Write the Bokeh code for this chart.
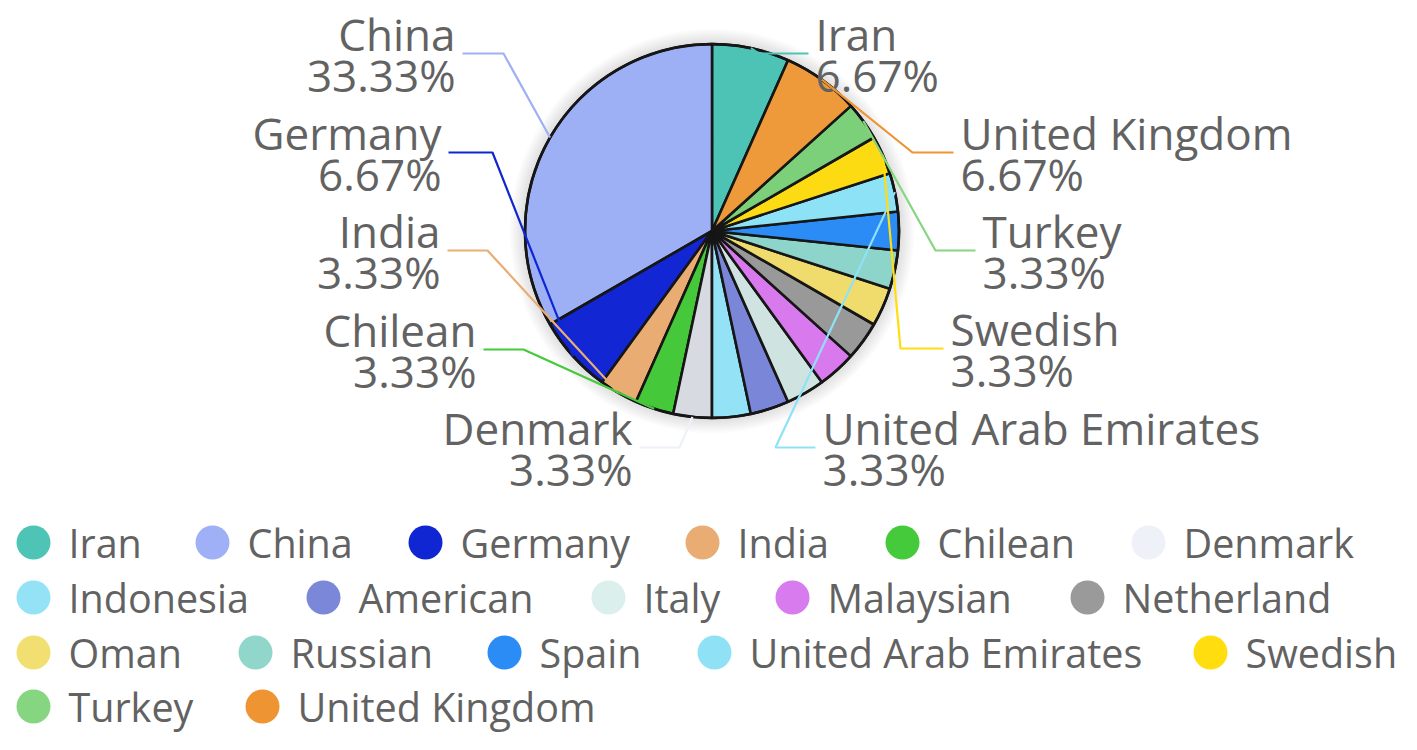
import math
from bokeh.plotting import figure
from bokeh.models import Range1d, ColumnDataSource
from bokeh.embed import file_html
from bokeh.resources import INLINE
from bokeh.core.properties import value

# ---------------- data ----------------
countries = ["Iran", "China", "Germany", "India", "Chilean", "Denmark",
             "Indonesia", "American", "Italy", "Malaysian", "Netherland",
             "Oman", "Russian", "Spain", "United Arab Emirates", "Swedish",
             "Turkey", "United Kingdom"]
counts = [2, 10, 2, 1, 1, 1, 1, 1, 1, 1, 1, 1, 1, 1, 1, 1, 1, 2]

slice_colors = ["#4dc3b5", "#9db0f6", "#1226d3", "#e9ad73", "#45c93a", "#d8dae2",
                "#93e2f6", "#7a87d8", "#cfe3e0", "#d87aee", "#999999",
                "#efdc6c", "#8dd5cb", "#2b8cf6", "#8ee2f5", "#fddb12",
                "#7dd07a", "#ee9a3a"]
legend_colors = ["#4ec4b6", "#9fb0f6", "#1126d3", "#e9ad74", "#44ca3b", "#eff1f9",
                 "#93e2f6", "#7b88d9", "#dbf0ed", "#d77bef", "#9a9a9a",
                 "#f1df71", "#90d6cb", "#2b8cf6", "#8fe2f6", "#ffdd0f",
                 "#86d580", "#ee9432"]

# ---------------- layout (pixel positions in the picture) ----------------
W, H = 1401, 734
PIE_CX, PIE_CY, PIE_R = 711.5, 230.5, 187

# labelled slices: (elbow x, elbow y, end x of horizontal segment)
label_layout = {
    "Iran": (758, 53, 808),
    "United Kingdom": (912, 152, 953),
    "Turkey": (935, 250, 975),
    "Swedish": (900, 348, 943),
    "United Arab Emirates": (775, 447, 815),
    "Denmark": (679, 447, 639),
    "Chilean": (523, 349, 483),
    "India": (487, 250, 447),
    "Germany": (492, 152, 448),
    "China": (503, 53, 462),
}

legend_row_y = [542, 597, 652, 706]
legend_row = [0, 0, 0, 0, 0, 0, 1, 1, 1, 1, 1, 2, 2, 2, 2, 2, 3, 3]
legend_marker_x = [33, 212, 425, 702, 902, 1148,
                   33, 323, 608, 792, 1087,
                   33, 255, 504, 714, 1210,
                   33, 262]

FONT = value("Open Sans")
TEXT_COLOR = "#626262"


def X(px):
    return px


def Y(py):
    return H - py


p = figure(width=W, height=H, output_backend="svg", toolbar_location=None,
           x_range=Range1d(0, W), y_range=Range1d(0, H),
           x_axis_type=None, y_axis_type=None, min_border=0)
p.outline_line_color = None
p.background_fill_color = "white"
p.border_fill_color = "white"

# soft shadow around the pie
for k in range(1, 12):
    p.circle(x=[X(PIE_CX)], y=[Y(PIE_CY)], radius=PIE_R + k * 1.4,
             fill_color="black", fill_alpha=0.010, line_color=None)

# ---------------- pie slices ----------------
total = sum(counts)
start_deg = 90 - 360.0 * counts[0] / total
starts, ends, mids = [], [], []
acc = start_deg
for c in counts:
    a0 = acc
    a1 = acc + 360.0 * c / total
    starts.append(math.radians(a0))
    ends.append(math.radians(a1))
    mids.append((a0 + a1) / 2.0)
    acc = a1

src = ColumnDataSource(dict(x=[X(PIE_CX)] * len(counts), y=[Y(PIE_CY)] * len(counts),
                            start=starts, end=ends, color=slice_colors))
p.wedge(x="x", y="y", radius=PIE_R, start_angle="start", end_angle="end",
        fill_color="color", line_color="#161616", line_width=2.6, source=src)
p.circle(x=[X(PIE_CX)], y=[Y(PIE_CY)], radius=PIE_R, fill_color=None,
         line_color="#161616", line_width=2.6)

# ---------------- leader lines and labels ----------------
for i, name in enumerate(countries):
    if name not in label_layout:
        continue
    ex, ey, endx = label_layout[name]
    m = math.radians(mids[i])
    sx = PIE_CX + PIE_R * math.cos(m)
    sy = PIE_CY - PIE_R * math.sin(m)
    p.line(x=[X(sx), X(ex), X(endx)], y=[Y(sy), Y(ey), Y(ey)],
           line_color=legend_colors[i], line_width=2.2)
    pct = f"{100.0 * counts[i] / total:.2f}%"
    if endx > ex:
        tx, align = endx + 7, "left"
    else:
        tx, align = endx - 7, "right"
    p.text(x=[X(tx), X(tx)], y=[Y(ey - 20), Y(ey + 21)], text=[name, pct],
           text_font=FONT, text_font_size="44px", text_color=TEXT_COLOR,
           text_align=align, text_baseline="middle")

# ---------------- legend ----------------
lx = [X(v) for v in legend_marker_x]
ly = [Y(legend_row_y[r]) for r in legend_row]
p.scatter(x=lx, y=ly, marker="circle", size=34, fill_color=legend_colors,
          line_color=None)
p.text(x=[v + 35 for v in lx], y=ly, text=countries, text_font=FONT,
       text_font_size="39.5px", text_color=TEXT_COLOR, text_align="left",
       text_baseline="middle")

open("out.html", "w").write(file_html(p, INLINE))
